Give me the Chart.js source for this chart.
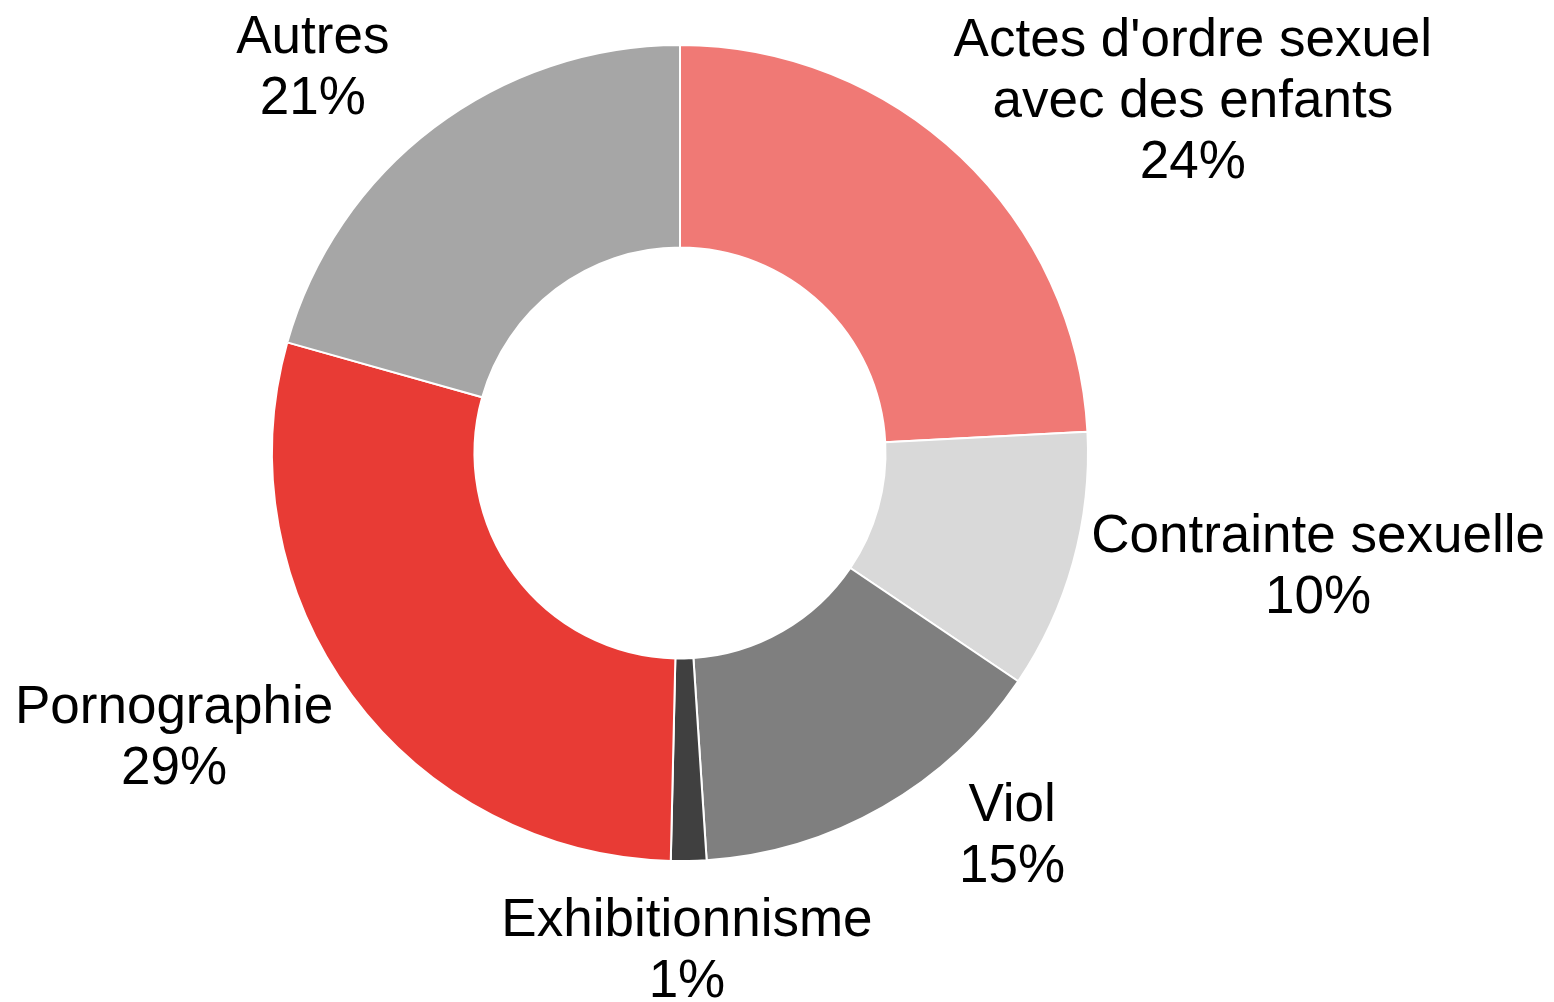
<!DOCTYPE html>
<html>
<head>
<meta charset="utf-8">
<script src="https://cdn.jsdelivr.net/npm/chart.js@4.4.0/dist/chart.umd.min.js"></script>
<style>
  html, body { margin: 0; padding: 0; background: #fff; }
  canvas { display: block; }
</style>
</head>
<body>
<canvas id="donut" width="1554" height="1002"></canvas>
<script>
// data (share in %)
const categories = [
  ["Actes d'ordre sexuel", "avec des enfants"],
  ["Contrainte sexuelle"],
  ["Viol"],
  ["Exhibitionnisme"],
  ["Pornographie"],
  ["Autres"]
];
const shares = [24.17, 10.28, 14.51, 1.40, 29.01, 20.63];
const colors = ["#F07975", "#D9D9D9", "#7F7F7F", "#404040", "#E83B35", "#A6A6A6"];

// where each label block sits, relative to the centre, in outer radii
const labelPos = [
  [1.257, -0.870],
  [1.564, 0.270],
  [0.814, 0.931],
  [0.017, 1.213],
  [-1.240, 0.691],
  [-0.900, -0.953]
];

const FONT_SIZE = 53;
const LINE_H = 61;

const outsideLabels = {
  id: "outsideLabels",
  afterDatasetsDraw(chart) {
    const ctx = chart.ctx;
    const meta = chart.getDatasetMeta(0);
    const arc0 = meta.data[0];
    const cx = arc0.x, cy = arc0.y, R = arc0.outerRadius;
    const total = shares.reduce((a, b) => a + b, 0);
    ctx.save();
    ctx.fillStyle = "#000";
    ctx.font = FONT_SIZE + "px 'Liberation Sans', Arial, sans-serif";
    ctx.textAlign = "center";
    ctx.textBaseline = "alphabetic";
    const capH = FONT_SIZE * 0.716;
    categories.forEach((lines, i) => {
      const pct = Math.round(shares[i] / total * 100) + "%";
      const all = lines.concat([pct]);
      const bx = cx + labelPos[i][0] * R;
      const by = cy + labelPos[i][1] * R;
      const blockH = capH + (all.length - 1) * LINE_H;
      let y = by - blockH / 2 + capH;
      all.forEach(t => {
        ctx.fillText(t, bx, y);
        y += LINE_H;
      });
    });
    ctx.restore();
  }
};

new Chart(document.getElementById("donut"), {
  type: "doughnut",
  data: {
    labels: categories.map(c => c.join(" ")),
    datasets: [{
      data: shares,
      backgroundColor: colors,
      borderColor: "#ffffff",
      borderWidth: 2
    }]
  },
  options: {
    responsive: false,
    animation: false,
    radius: 408,
    cutout: 205,
    layout: { padding: { left: 0, right: 194, top: 45, bottom: 141 } },
    plugins: {
      legend: { display: false },
      tooltip: { enabled: false }
    }
  },
  plugins: [outsideLabels]
});
</script>
</body>
</html>
